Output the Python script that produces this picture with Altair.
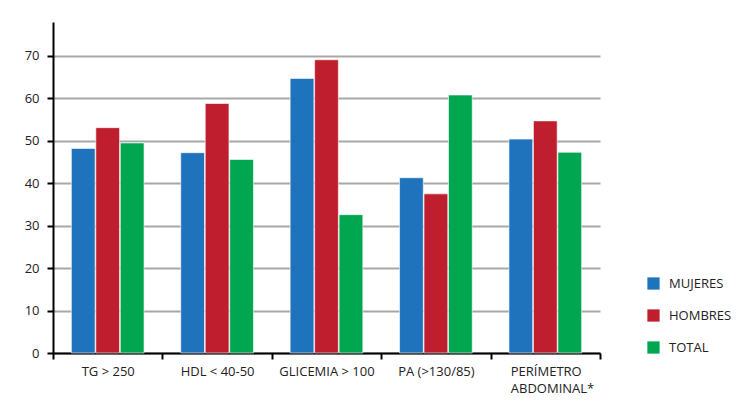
import altair as alt
import pandas as pd

categories = ["TG > 250", "HDL < 40-50", "GLICEMIA > 100", "PA (>130/85)", "PERÍMETRO ABDOMINAL*"]
series = ["MUJERES", "HOMBRES", "TOTAL"]
mujeres = [48.2, 47.2, 64.7, 41.3, 50.4]
hombres = [53.1, 58.8, 69.1, 37.5, 54.7]
total = [49.5, 45.6, 32.6, 60.8, 47.3]
colors = ["#1F73BD", "#BE1E2D", "#00A650"]
y_ticks = [0, 10, 20, 30, 40, 50, 60, 70]

rows = []
for i, c in enumerate(categories):
    for s, vals in zip(series, [mujeres, hombres, total]):
        rows.append({"cat": c, "serie": s, "valor": vals[i]})
df = pd.DataFrame(rows)

FONT = "Open Sans"
LAST = "datum.value == 'PERÍMETRO ABDOMINAL*'"

chart = alt.Chart(df).mark_bar(
    stroke="#ffffff", strokeWidth=1, strokeOpacity=0.6
).encode(
    x=alt.X("cat:N", sort=categories, title=None,
            scale=alt.Scale(paddingInner=0, paddingOuter=0),
            axis=alt.Axis(labelAngle=0, tickBand="extent", domainColor="#000000",
                          domainWidth=2, tickColor="#000000", tickWidth=2, tickSize=6,
                          labelFont=FONT, labelFontSize=13, labelColor="#222222",
                          labelPadding=6, grid=False, labelLineHeight=17,
                          labelAlign=alt.condition(LAST, alt.value("left"), alt.value("center")),
                          labelOffset=alt.condition(LAST, alt.value(-35), alt.value(0)),
                          labelExpr="datum.value == 'PERÍMETRO ABDOMINAL*' ? ['PERÍMETRO', 'ABDOMINAL*'] : datum.value")),
    xOffset=alt.XOffset("serie:N", sort=series,
                        scale=alt.Scale(paddingInner=0.03, paddingOuter=0.75)),
    y=alt.Y("valor:Q", title=None,
            scale=alt.Scale(domain=[0, 78], nice=False),
            axis=alt.Axis(values=y_ticks, domainColor="#000000", domainWidth=2,
                          tickColor="#000000", tickWidth=2, tickSize=6,
                          labelFont=FONT, labelFontSize=13, labelColor="#222222",
                          labelPadding=8, gridColor="#a8a8a8", gridWidth=2,
                          minExtent=45, maxExtent=45)),
    color=alt.Color("serie:N", sort=series,
                    scale=alt.Scale(domain=series, range=colors),
                    legend=alt.Legend(title=None, orient="none", legendX=594, legendY=255,
                                      symbolType="square", symbolSize=150,
                                      symbolStrokeWidth=0, labelFont=FONT,
                                      labelFontSize=13, labelColor="#222222",
                                      rowPadding=18, labelOffset=9, padding=0)),
).properties(
    width=547, height=331,
    padding={"left": 0, "top": 14, "right": 5, "bottom": 5},
).configure_view(stroke=None)

chart.save("out.html", embed_options={"renderer": "svg", "actions": False})
